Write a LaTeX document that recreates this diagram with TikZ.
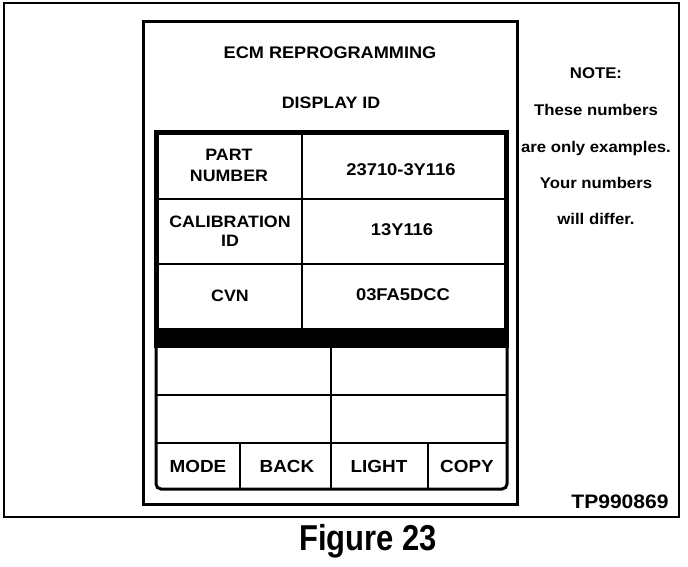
\documentclass[tikz,border=0pt]{standalone}
\usepackage{fontspec}
\setmainfont{Liberation Sans}[FakeStretch=1.08]
\newfontfamily\figfont{Liberation Sans}[FakeStretch=0.86]
\begin{document}
\begin{tikzpicture}[x=1pt,y=-1pt,
  txt/.style={font=\bfseries\fontsize{16.5}{19}\selectfont, anchor=base, inner sep=0pt},
  val/.style={font=\bfseries\fontsize{17}{19}\selectfont, anchor=base, inner sep=0pt},
  note/.style={font=\bfseries\fontsize{15.5}{18}\selectfont, anchor=base, inner sep=0pt},
  btn/.style={font=\bfseries\fontsize{17.5}{19}\selectfont, anchor=base, inner sep=0pt},
  frame/.style={line width=2.5pt},
  thick frame/.style={line width=5pt},
  rule/.style={line width=2.5pt}]
\useasboundingbox (0,0) rectangle (688,566);
% outer and device frames
\draw[frame] (4,3) rectangle (679,517);
\draw[line width=3pt] (143,21) rectangle (517,504);
% header texts
\node[txt, font=\bfseries\fontsize{16.8}{19}\selectfont] (title) at (330,58) {ECM REPROGRAMMING};
\node[txt] (disp) at (331,108) {DISPLAY ID};
% upper table
\draw[thick frame] (156.5,132.5) rectangle (506.5,338);
\fill (154,328) rectangle (509,348);
\draw[rule] (156,199) -- (507,199);
\draw[rule] (156,264) -- (507,264);
\draw[rule] (302,132) -- (302,329);
\node[txt] (pn) at (229,160) {PART};
\node[txt] (pn2) at (229,181) {NUMBER};
\node[val] (pnv) at (401,175) {23710-3Y116};
\node[txt] (cal) at (230,227) {CALIBRATION};
\node[txt] (cal2) at (230,246) {ID};
\node[val] (calv) at (402,235) {13Y116};
\node[txt] (cvn) at (230,301) {CVN};
\node[val] (cvnv) at (403,300) {03FA5DCC};
% lower section
\draw[line width=3pt, rounded corners=5pt] (156,340) -- (156,489) -- (507,489) -- (507,340);
\draw[rule] (156,395) -- (507,395);
\draw[rule] (156,443) -- (507,443);
\draw[line width=2pt] (331,348) -- (331,489);
\draw[line width=2pt] (240,443) -- (240,489);
\draw[line width=2pt] (428,443) -- (428,489);
\node[btn] (mode) at (198,472) {MODE};
\node[btn] (back) at (287,472) {BACK};
\node[btn] (light) at (379,472) {LIGHT};
\node[btn] (copy) at (467,472) {COPY};
% note
\node[note] (n1) at (596,78) {NOTE:};
\node[note] (n2) at (596,115) {These numbers};
\node[note] (n3) at (596,152) {are only examples.};
\node[note] (n4) at (596,188) {Your numbers};
\node[note] (n5) at (596,224) {will differ.};
% ids
\node[txt, font=\bfseries\fontsize{19.5}{21}\selectfont] (tp) at (620,508) {TP990869};
\node[anchor=base, inner sep=0pt, font=\figfont\bfseries\fontsize{36}{40}\selectfont] (fig) at (368,550) {Figure 23};
\end{tikzpicture}
\end{document}
